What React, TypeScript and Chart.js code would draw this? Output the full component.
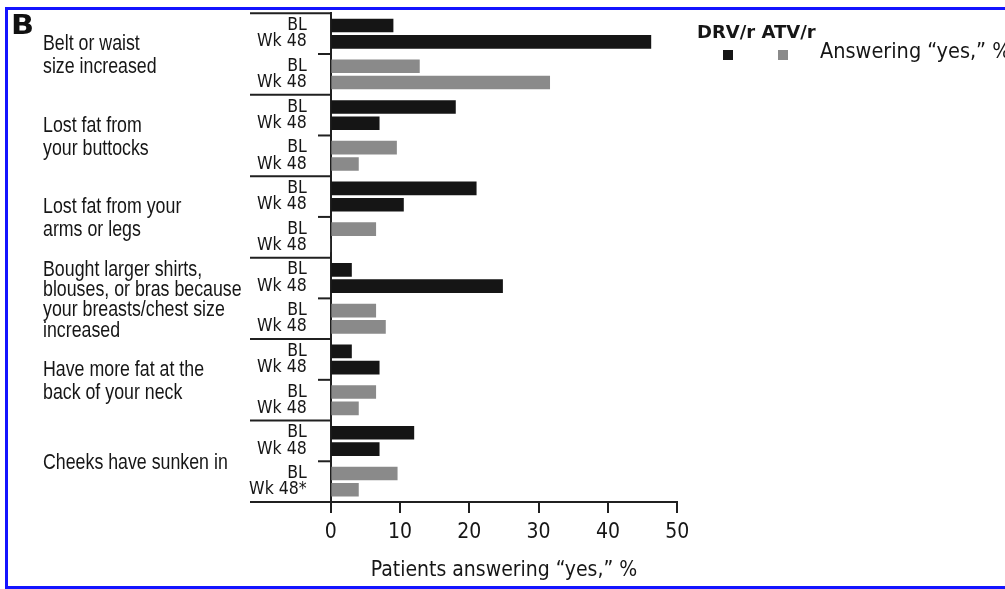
import React, { useEffect, useRef } from "react";
import { Chart, registerables } from "chart.js";

Chart.register(...registerables);

// ---- data ----
const groupLabels: string[][] = [
  ["Belt or waist", "size increased"],
  ["Lost fat from", "your buttocks"],
  ["Lost fat from your", "arms or legs"],
  ["Bought larger shirts,", "blouses, or bras because", "your breasts/chest size", "increased"],
  ["Have more fat at the", "back of your neck"],
  ["Cheeks have sunken in"],
];
const drvBL = [9, 18, 21, 3, 3, 12];
const drvWk48 = [46.2, 7, 10.5, 24.8, 7, 7];
const atvBL = [12.8, 9.5, 6.5, 6.5, 6.5, 9.6];
const atvWk48 = [31.6, 4, 0, 7.9, 4, 4];
const rowLabels: string[][] = [
  ["BL", "Wk 48", "BL", "Wk 48"],
  ["BL", "Wk 48", "BL", "Wk 48"],
  ["BL", "Wk 48", "BL", "Wk 48"],
  ["BL", "Wk 48", "BL", "Wk 48"],
  ["BL", "Wk 48", "BL", "Wk 48"],
  ["BL", "Wk 48", "BL", "Wk 48*"],
];
const seriesNames = ["DRV/r", "ATV/r"];
const legendText = "Answering \u201cyes,\u201d %";
const xTitle = "Patients answering \u201cyes,\u201d %";
const panelLetter = "B";
const xMin = 0;
const xMax = 50;
const xStep = 10;

// ---- layout helpers (slot positions on a linear index axis) ----
const GROUP_SPAN = 5;
const ROW_OFFSETS = [0.75, 1.75, 3.25, 4.25];
const pos = (g: number, k: number) => g * GROUP_SPAN + ROW_OFFSETS[k];

const COND = '"DejaVu Sans Condensed", "DejaVu Sans", sans-serif';
const LIB = '"Liberation Sans", Arial, sans-serif';
const TEXT = "#161616";
const LINE = "#202020";
const BLACK = "#151515";
const GRAY = "#8a8a8a";
const BLUE = "#1414ff";

function scaledText(ctx: CanvasRenderingContext2D, t: string, x: number, y: number, sx: number) {
  ctx.save();
  ctx.translate(x, y);
  ctx.scale(sx, 1);
  ctx.fillText(t, 0, 0);
  ctx.restore();
}

export default function App() {
  const ref = useRef<HTMLCanvasElement | null>(null);

  useEffect(() => {
    if (!ref.current) return;
    const drvData: { x: number; y: number }[] = [];
    const atvData: { x: number; y: number }[] = [];
    groupLabels.forEach((_, g) => {
      drvData.push({ x: drvBL[g], y: pos(g, 0) });
      drvData.push({ x: drvWk48[g], y: pos(g, 1) });
      atvData.push({ x: atvBL[g], y: pos(g, 2) });
      atvData.push({ x: atvWk48[g], y: pos(g, 3) });
    });
    const tickValues: number[] = [];
    const tickTexts: string[] = [];
    rowLabels.forEach((rows, g) => {
      rows.forEach((lab, k) => {
        tickValues.push(pos(g, k));
        tickTexts.push(lab);
      });
    });

    const decor = {
      id: "decor",
      afterDraw(chart: any) {
        const ctx = chart.ctx as CanvasRenderingContext2D;
        const ys = chart.scales.y;
        const area = chart.chartArea;
        ctx.save();
        ctx.strokeStyle = LINE;
        ctx.lineWidth = 2;
        // group separators
        for (let g = 0; g <= groupLabels.length; g++) {
          const y = ys.getPixelForValue(g * GROUP_SPAN);
          ctx.beginPath();
          ctx.moveTo(250, y);
          ctx.lineTo(area.left, y);
          ctx.stroke();
        }
        // short mid ticks
        for (let g = 0; g < groupLabels.length; g++) {
          const y = ys.getPixelForValue(g * GROUP_SPAN + GROUP_SPAN / 2);
          ctx.beginPath();
          ctx.moveTo(318, y);
          ctx.lineTo(area.left, y);
          ctx.stroke();
        }
        // group labels
        ctx.fillStyle = TEXT;
        ctx.font = `22.5px ${LIB}`;
        ctx.textAlign = "left";
        ctx.textBaseline = "middle";
        groupLabels.forEach((lines, g) => {
          const cy = ys.getPixelForValue(g * GROUP_SPAN + GROUP_SPAN / 2) + 1.5;
          const lh = lines.length >= 4 ? 20.3 : 22.8;
          const start = cy - ((lines.length - 1) * lh) / 2;
          lines.forEach((t, i) => scaledText(ctx, t, 43, start + i * lh, 0.79));
        });
        // panel letter
        ctx.font = `bold 27px "DejaVu Sans", sans-serif`;
        ctx.textBaseline = "alphabetic";
        ctx.fillStyle = "#111";
        scaledText(ctx, panelLetter, 11, 33.5, 1.12);
        // legend
        ctx.font = `bold 18px "DejaVu Sans", sans-serif`;
        ctx.fillStyle = TEXT;
        ctx.fillText(seriesNames.join(" "), 697, 37.5);
        ctx.fillStyle = BLACK;
        ctx.fillRect(723, 50, 10, 10);
        ctx.fillStyle = GRAY;
        ctx.fillRect(778, 50, 10, 10);
        ctx.fillStyle = TEXT;
        ctx.font = `21.5px ${COND}`;
        ctx.fillText(legendText, 820, 57.5);
        ctx.restore();
      },
    };

    const chart = new Chart(ref.current, {
      type: "bar",
      data: {
        datasets: [
          { label: seriesNames[0], data: drvData, backgroundColor: BLACK, borderWidth: 0 },
          { label: seriesNames[1], data: atvData, backgroundColor: GRAY, borderWidth: 0 },
        ],
      },
      options: {
        indexAxis: "y",
        animation: false,
        responsive: false,
        maintainAspectRatio: false,
        datasets: { bar: { grouped: false, barThickness: 13 } } as any,
        layout: { padding: { top: 13.3, bottom: 5.6, left: 0, right: 327.8 } },
        plugins: { legend: { display: false }, tooltip: { enabled: false }, title: { display: false } },
        scales: {
          y: {
            type: "linear",
            min: 0,
            max: groupLabels.length * GROUP_SPAN,
            reverse: true,
            offset: false,
            grid: { display: false, drawTicks: false },
            border: { display: true, color: LINE, width: 2 },
            afterBuildTicks: (scale: any) => {
              scale.ticks = tickValues.map((v) => ({ value: v }));
            },
            afterFit: (scale: any) => {
              scale.width = 330.7;
              scale.paddingTop = 0;
              scale.paddingBottom = 0;
            },
            ticks: {
              autoSkip: false,
              padding: 24,
              color: TEXT,
              font: { family: COND, size: 17.5 },
              callback: (_v: any, i: number) => tickTexts[i],
            },
          },
          x: {
            type: "linear",
            min: xMin,
            max: xMax,
            grid: { display: true, drawOnChartArea: false, drawTicks: true, tickLength: 11, color: LINE, lineWidth: 2 },
            border: { display: true, color: LINE, width: 2 },
            ticks: { stepSize: xStep, padding: 7, color: TEXT, font: { family: COND, size: 21 } },
            title: { display: true, text: xTitle, color: TEXT, font: { family: COND, size: 21 }, padding: { top: 6, bottom: 0 } },
          },
        },
      } as any,
      plugins: [decor],
    });
    return () => chart.destroy();
  }, []);

  return (
    <div style={{ position: "absolute", left: 0, top: 0, width: 1005, height: 589, overflow: "hidden", background: "#fff" }}>
      <canvas ref={ref} width={1005} height={589} style={{ position: "absolute", left: 0, top: 0, width: 1005, height: 589 }} />
      <div
        style={{
          position: "absolute",
          left: 5,
          top: 7,
          width: 2000,
          height: 576,
          border: `3px solid ${BLUE}`,
          boxSizing: "content-box",
          pointerEvents: "none",
        }}
      />
    </div>
  );
}
